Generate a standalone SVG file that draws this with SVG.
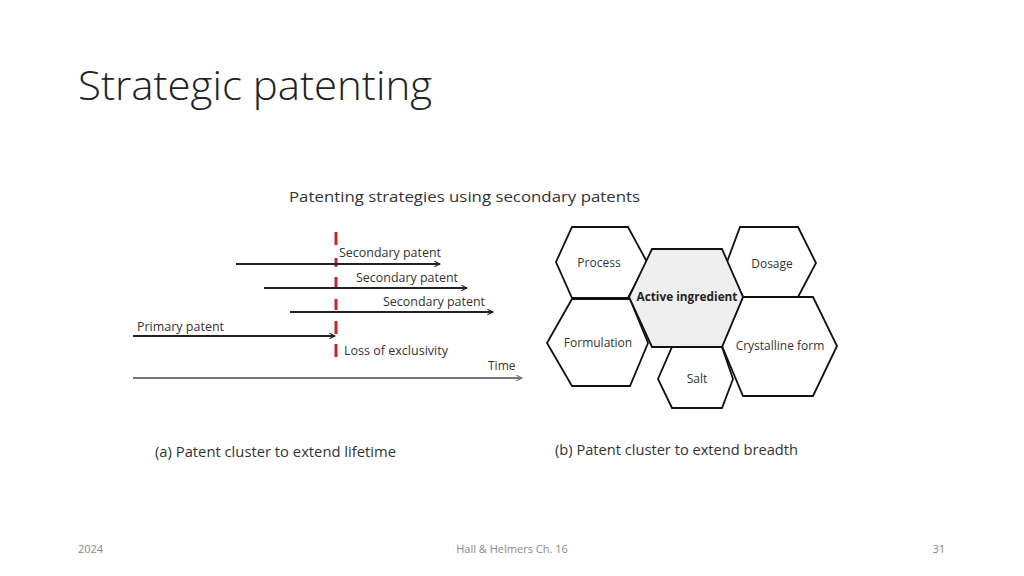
<svg xmlns="http://www.w3.org/2000/svg" width="1024" height="576" viewBox="0 0 1024 576">
<style>
text{font-family:"Open Sans","Liberation Sans",Arial,sans-serif;fill:#333}
.ar{stroke:#222;stroke-width:2;fill:none}
.hx{fill:#fff;stroke:#111;stroke-width:1.8}
.hl{font-size:12px;text-anchor:middle}
.red{stroke:#c0262d;stroke-width:3}
</style>
<defs>
<marker id="a" viewBox="0 0 10 10" refX="9" refY="5" markerWidth="7" markerHeight="7" orient="auto" markerUnits="userSpaceOnUse"><path d="M1,1 L9,5 L1,9" fill="none" stroke="#222" stroke-width="1.5"/></marker>
<marker id="g" viewBox="0 0 10 10" refX="9" refY="5" markerWidth="7" markerHeight="7" orient="auto" markerUnits="userSpaceOnUse"><path d="M1,1 L9,5 L1,9" fill="none" stroke="#777" stroke-width="1.5"/></marker>
</defs>
<rect width="1024" height="576" fill="#fff"/>
<text x="78" y="100" font-size="40" textLength="354" lengthAdjust="spacingAndGlyphs" style="fill:#222;font-family:'Open Sans','Liberation Sans',sans-serif;font-weight:300">Strategic patenting</text>
<text x="289" y="202" font-size="15" textLength="351" lengthAdjust="spacingAndGlyphs">Patenting strategies using secondary patents</text>
<g id="connectors">
<g class="red">
<line x1="336" y1="232" x2="336" y2="245"/>
<line x1="336" y1="258" x2="336" y2="267"/>
<line x1="336" y1="277" x2="336" y2="289"/>
<line x1="336" y1="299" x2="336" y2="310"/>
<line x1="336" y1="321" x2="336" y2="334"/>
<line x1="336" y1="344" x2="336" y2="357"/>
</g>
<line class="ar" x1="236" y1="264" x2="440" y2="264" marker-end="url(#a)"/>
<line class="ar" x1="264" y1="288" x2="467" y2="288" marker-end="url(#a)"/>
<line class="ar" x1="290" y1="312" x2="493" y2="312" marker-end="url(#a)"/>
<line class="ar" x1="133" y1="336" x2="335" y2="336" marker-end="url(#a)"/>
<line x1="133" y1="378" x2="522" y2="378" stroke="#777" stroke-width="2" marker-end="url(#g)"/>
</g>
<g font-size="12">
<text x="339" y="257" textLength="102" lengthAdjust="spacingAndGlyphs">Secondary patent</text>
<text x="356" y="282" textLength="102" lengthAdjust="spacingAndGlyphs">Secondary patent</text>
<text x="383" y="306" textLength="102" lengthAdjust="spacingAndGlyphs">Secondary patent</text>
<text x="137" y="331" textLength="87" lengthAdjust="spacingAndGlyphs">Primary patent</text>
<text x="344" y="355" textLength="104" lengthAdjust="spacingAndGlyphs">Loss of exclusivity</text>
<text x="488" y="370">Time</text>
</g>
<g id="process"><polygon class="hx" points="572,227 628,227 647,262 628,298 572,298 556,262"/><text class="hl" x="599" y="267">Process</text></g>
<g id="dosage"><polygon class="hx" points="740,227 798,227 816,263 798,297 743,297 727,262"/><text class="hl" x="772" y="268">Dosage</text></g>
<g id="formulation"><polygon class="hx" points="572,299 630,299 648,343 630,386 572,386 547,343"/><text class="hl" x="598" y="347">Formulation</text></g>
<g id="crystalline"><polygon class="hx" points="743,297 813,297 837,346 813,396 743,396 722,346"/><text class="hl" x="780" y="350">Crystalline form</text></g>
<g id="salt"><polygon class="hx" points="672,347 722,347 733,379 722,408 672,408 658,379"/><text class="hl" x="697" y="383">Salt</text></g>
<g id="active"><polygon class="hx" style="fill:#efefef" points="652,249 722,249 743,297 722,347 652,347 629,297"/><text class="hl" x="687" y="301" font-weight="bold" textLength="101" lengthAdjust="spacingAndGlyphs" style="fill:#222">Active ingredient</text></g>
<text x="155" y="457" font-size="14" textLength="241" lengthAdjust="spacingAndGlyphs">(a) Patent cluster to extend lifetime</text>
<text x="555" y="455" font-size="14" textLength="243" lengthAdjust="spacingAndGlyphs">(b) Patent cluster to extend breadth</text>
<g font-size="11">
<text x="78" y="553" style="fill:#888">2024</text>
<text x="512" y="553" text-anchor="middle" style="fill:#888">Hall &amp; Helmers Ch. 16</text>
<text x="945" y="553" text-anchor="end" style="fill:#888">31</text>
</g>
</svg>
